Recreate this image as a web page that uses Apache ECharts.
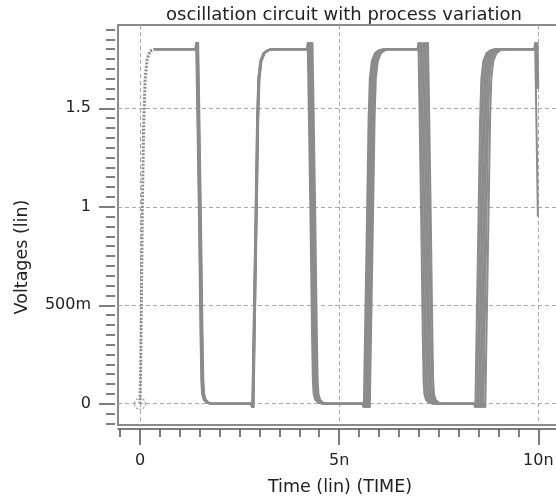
<!DOCTYPE html>
<html><head><meta charset="utf-8">
<script src="https://cdn.jsdelivr.net/npm/echarts@6/dist/echarts.min.js"></script>
<style>html,body{margin:0;padding:0;background:#fff}#c{width:556px;height:499px}</style>
</head><body><div id="c"></div>
<script>
// ---- text ----
const titleText = 'oscillation circuit with process variation';
const xName = 'Time (lin) (TIME)';
const yName = 'Voltages (lin)';
// ---- axis ticks (ns / V) ----
const xMajorTicks = [0, 5, 10];
const xMajorLabels = ['0', '5n', '10n'];
const yMajorTicks = [0, 0.5, 1, 1.5];
const yMajorLabels = ['0', '500m', '1', '1.5'];
const xMinorStep = 0.5;
const yMinorStep = 0.05;
const xRange = [-0.552, 10.746];
const yRange = [-0.108, 1.923];
const simEnd = 10;
// ---- waveform pieces: [time offset ns, volts] ----
const startupWave = [[0,0],[0.02,0.2],[0.04,0.6],[0.06,1.0],[0.09,1.4],[0.13,1.65],[0.18,1.75],[0.25,1.79],[0.35,1.8]];
const fallShape = [[-0.3,1.8],[-0.09,1.8],[-0.07,1.835],[-0.05,1.6],[0,0.95],[0.04,0.35],[0.06,0.12],[0.08,0.05],[0.12,0.02],[0.2,0.005],[0.3,0]];
const riseShape = [[-0.12,0],[-0.08,-0.02],[-0.05,0.35],[0,0.95],[0.04,1.45],[0.07,1.65],[0.12,1.74],[0.2,1.78],[0.3,1.795],[0.4,1.8]];
// ---- mid-level crossing times (ns) of each process corner: fall, rise, fall, ... ----
const traceA = [1.48, 2.900, 4.28, 5.700, 7.06, 8.50, 9.99];
const traceB = [1.49, 2.905, 4.30, 5.725, 7.10, 8.54, 10.02];
const traceC = [1.50, 2.910, 4.32, 5.750, 7.14, 8.58, 10.05];
const traceD = [1.505, 2.915, 4.34, 5.775, 7.18, 8.62, 10.08];
const traceE = [1.51, 2.920, 4.36, 5.800, 7.22, 8.66, 10.11];
const traceF = [1.52, 2.925, 4.38, 5.825, 7.26, 8.70, 10.14];
const traceG = [1.53, 2.930, 4.40, 5.850, 7.30, 8.75, 10.17];
const traces = [traceA, traceB, traceC, traceD, traceE, traceF, traceG];

const traceColor = '#8c8c8c';
const axisColor = '#555';
const gridDash = '#a8a8a8';

function buildTrace(edges) {
  const pts = [startupWave[startupWave.length - 1].slice()];
  edges.forEach((c, i) => {
    const shape = i % 2 === 0 ? fallShape : riseShape;
    shape.forEach(p => pts.push([c + p[0], p[1]]));
  });
  const kept = pts.filter(p => p[0] <= simEnd);
  const last = kept[kept.length - 1];
  if (last[0] < simEnd && last[1] >= 1.79) kept.push([simEnd, last[1]]);
  return kept;
}
function stepValues(range, step) {
  const out = [];
  const s = Math.ceil(range[0] / step - 1e-9);
  const e = Math.floor(range[1] / step + 1e-9);
  for (let k = s; k <= e; k++) out.push(+(k * step).toFixed(4));
  return out;
}
const xMinorTicks = stepValues([xRange[0], simEnd + 0.5], xMinorStep);
const yMinorTicks = stepValues(yRange, yMinorStep);

const series = traces.map(t => ({
  type: 'line', data: buildTrace(t), showSymbol: false, silent: true,
  xAxisIndex: 0, yAxisIndex: 0,
  lineStyle: { color: traceColor, width: 2 }, z: 3
}));
series.push({
  type: 'line', data: startupWave, showSymbol: false, xAxisIndex: 0, yAxisIndex: 0,
  lineStyle: { color: traceColor, width: 3, type: [2, 1.5] }, z: 3
});
series.push({
  type: 'scatter', data: [[0, 0]], xAxisIndex: 0, yAxisIndex: 0, symbol: 'circle', symbolSize: 11,
  itemStyle: { color: 'rgba(0,0,0,0)', borderColor: '#888', borderWidth: 1.2, borderType: [2, 1.5] }, z: 4
});

const font = 'DejaVu Sans';
const chart = echarts.init(document.getElementById('c'), null, { renderer: 'canvas' });
chart.setOption({
  animation: false,
  backgroundColor: '#fff',
  title: { text: titleText, left: 161, top: 1,
    textStyle: { fontFamily: font, fontSize: 18, fontWeight: 'normal', color: '#222' } },
  grid: { left: 118, top: 25, width: 450, height: 400, outerBoundsMode: 'none', containLabel: false,
    show: true, borderColor: '#8a8a8a', borderWidth: 2, backgroundColor: '#fff' },
  xAxis: [
    { type: 'value', min: xRange[0], max: xRange[1], position: 'bottom', offset: 4,
      axisLine: { show: true, onZero: false, lineStyle: { color: axisColor, width: 1.5 } },
      axisTick: { show: true, customValues: xMinorTicks, length: 8, lineStyle: { color: axisColor, width: 1.5 } },
      axisLabel: { show: false }, splitLine: { show: false } },
    { type: 'value', min: xRange[0], max: xRange[1], position: 'bottom', offset: 4,
      axisLine: { show: false, onZero: false },
      axisTick: { show: true, customValues: xMajorTicks, length: 16, lineStyle: { color: axisColor, width: 1.5 } },
      axisLabel: { show: true, customValues: xMajorTicks, margin: 24,
        formatter: v => xMajorLabels[xMajorTicks.indexOf(v)] ?? '',
        fontFamily: font, fontSize: 16, color: '#222' },
      splitLine: { show: true, lineStyle: { color: gridDash, type: [4, 3], width: 1 } },
      name: xName, nameLocation: 'middle', nameGap: 49,
      nameTextStyle: { fontFamily: font, fontSize: 17.5, color: '#222', padding: [0, 6, 0, 0] } }
  ],
  yAxis: [
    { type: 'value', min: yRange[0], max: yRange[1], position: 'left', offset: 3,
      axisLine: { show: false, onZero: false },
      axisTick: { show: true, customValues: yMinorTicks, length: 9, lineStyle: { color: axisColor, width: 1.5 } },
      axisLabel: { show: false }, splitLine: { show: false } },
    { type: 'value', min: yRange[0], max: yRange[1], position: 'left', offset: 3,
      axisLine: { show: false, onZero: false },
      axisTick: { show: true, customValues: yMajorTicks, length: 16, lineStyle: { color: axisColor, width: 1.5 } },
      axisLabel: { show: true, customValues: yMajorTicks, margin: 24,
        formatter: v => yMajorLabels[yMajorTicks.indexOf(v)] ?? '',
        fontFamily: font, fontSize: 16, color: '#222' },
      splitLine: { show: true, lineStyle: { color: gridDash, type: [4, 3], width: 1 } },
      name: yName, nameLocation: 'middle', nameGap: 84,
      nameTextStyle: { fontFamily: font, fontSize: 17.5, color: '#222', padding: [0, 64, 0, 0] } }
  ],
  series: series
});
</script></body></html>
